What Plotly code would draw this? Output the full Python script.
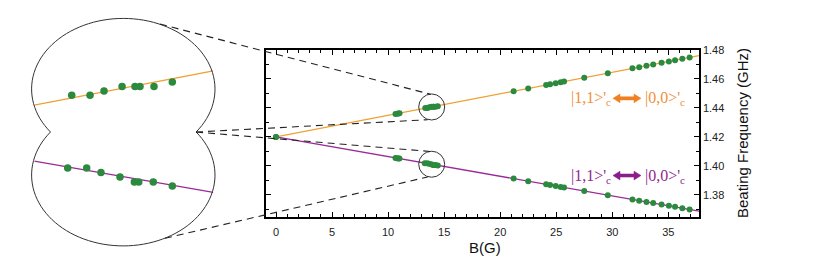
import math
import plotly.graph_objects as go

# ---------------- data ----------------
B_upper = [0.0, 10.66, 10.80, 10.92, 11.02,
           13.315, 13.519, 13.675, 13.876, 14.020, 14.076, 14.232, 14.436,
           21.2, 22.5, 24.1, 24.45, 24.95, 25.4, 25.7, 27.5, 29.6,
           31.8, 32.4, 33.05, 33.65, 34.4, 35.05, 35.6, 36.25, 36.9]
f_upper = [1.4200, 1.43584, 1.43605, 1.43623, 1.43638,
           1.44002, 1.44002, 1.44038, 1.44078, 1.44078, 1.44078, 1.44078, 1.44117,
           1.4515, 1.4534, 1.4558, 1.4563, 1.4571, 1.4577, 1.4582, 1.4609, 1.4640,
           1.4673, 1.4681, 1.4691, 1.4700, 1.4711, 1.4721, 1.4729, 1.4739, 1.4748]

B_lower = [0.0, 10.66, 10.80, 10.92, 11.02,
           13.270, 13.482, 13.641, 13.853, 14.013, 14.062, 14.224, 14.436,
           21.2, 22.5, 24.1, 24.45, 24.95, 25.4, 25.7, 27.5, 29.6,
           31.8, 32.4, 33.05, 33.65, 34.4, 35.05, 35.6, 36.25, 36.9]
f_lower = [1.4200, 1.40552, 1.40533, 1.40517, 1.40503,
           1.40189, 1.40189, 1.40150, 1.40111, 1.40068, 1.40068, 1.40068, 1.40032,
           1.3912, 1.3894, 1.3873, 1.3868, 1.3861, 1.3855, 1.3851, 1.3827, 1.3798,
           1.3768, 1.3760, 1.3751, 1.3743, 1.3733, 1.3724, 1.3717, 1.3708, 1.3699]

fit_upper = (1.4200, 0.001486)   # intercept (GHz), slope (GHz/G)
fit_lower = (1.4200, -0.001358)

x_tickvals = [0, 5, 10, 15, 20, 25, 30, 35]
y_tickvals = [1.38, 1.40, 1.42, 1.44, 1.46, 1.48]
y_ticktext = ["1.38", "1.40", "1.42", "1.44", "1.46", "1.48"]

label_left = "|1,1&gt;'<sub>c</sub>"
label_right = "|0,0&gt;'<sub>c</sub>"

# ---------------- layout constants ----------------
W, H = 830, 263
MX0, MX1, MY0, MY1 = 266, 699, 45, 215.5     # main plot frame (px)
X_RANGE = [-0.892, 37.737]
Y_RANGE = [1.365, 1.48]
ZOOM_X = 13.89                               # centre of the magnified region
CIRC_R = 13                                  # px

IN_X0, IN_X1 = 34.3, 213.3                   # inset horizontal extent (px)
INSET_X = [12.898, 14.893]
INSET_UP_PX = (12.7, 129.0)
INSET_LO_PX = (129.0, 245.5)
INSET_UP_Y = [1.43684, 1.44666]
INSET_LO_Y = [1.39515, 1.40499]

ORANGE = "#f0a030"
PURPLE = "#9a2a9a"
GREEN = "#2b8a3e"
TXT_OR = "#f0903a"
TXT_PU = "#8e2a8e"


def fit(p, x):
    return p[0] + p[1] * x


def to_px(x, y):
    px = MX0 + (x - X_RANGE[0]) / (X_RANGE[1] - X_RANGE[0]) * (MX1 - MX0)
    py = MY1 - (y - Y_RANGE[0]) / (Y_RANGE[1] - Y_RANGE[0]) * (MY1 - MY0)
    return px, py


def paper(px, py):
    return px / W, 1 - py / H


fig = go.Figure()

# main axes traces
xl = [0.0, X_RANGE[1]]
fig.add_trace(go.Scatter(x=xl, y=[fit(fit_upper, v) for v in xl], mode="lines",
                         line=dict(color=ORANGE, width=1.3), xaxis="x", yaxis="y"))
fig.add_trace(go.Scatter(x=xl, y=[fit(fit_lower, v) for v in xl], mode="lines",
                         line=dict(color=PURPLE, width=1.3), xaxis="x", yaxis="y"))
fig.add_trace(go.Scatter(x=B_upper, y=f_upper, mode="markers",
                         marker=dict(color=GREEN, size=6), xaxis="x", yaxis="y"))
fig.add_trace(go.Scatter(x=B_lower, y=f_lower, mode="markers",
                         marker=dict(color=GREEN, size=6), xaxis="x", yaxis="y"))

# inset traces
fig.add_trace(go.Scatter(x=INSET_X, y=[fit(fit_upper, v) for v in INSET_X], mode="lines",
                         line=dict(color=ORANGE, width=1.3), xaxis="x2", yaxis="y2"))
fig.add_trace(go.Scatter(x=B_upper, y=f_upper, mode="markers",
                         marker=dict(color=GREEN, size=7.5), xaxis="x2", yaxis="y2"))
fig.add_trace(go.Scatter(x=INSET_X, y=[fit(fit_lower, v) for v in INSET_X], mode="lines",
                         line=dict(color=PURPLE, width=1.3), xaxis="x3", yaxis="y3"))
fig.add_trace(go.Scatter(x=B_lower, y=f_lower, mode="markers",
                         marker=dict(color=GREEN, size=7.5), xaxis="x3", yaxis="y3"))

# ---------------- shapes ----------------
shapes = []
# peanut-shaped inset outline (union of two ellipses)
cxe, ae = 123.3, 91.7
up_c, up_b = 85.0, 72.3
lo_c, lo_b = 173.0, 72.5
notch_y = 129.0
t_up = math.asin((up_c - notch_y) / up_b)
t_lo = math.asin((lo_c - notch_y) / lo_b)
pts = []
n = 80
for i in range(n + 1):
    t = t_up + (math.pi - 2 * t_up) * i / n
    pts.append((cxe + ae * math.cos(t), up_c - up_b * math.sin(t)))
for i in range(n + 1):
    t = (math.pi - t_lo) + (math.pi + 2 * t_lo) * i / n
    pts.append((cxe + ae * math.cos(t), lo_c - lo_b * math.sin(t)))
path = "M " + " L ".join("%.5f,%.5f" % paper(px, py) for px, py in pts) + " Z"
shapes.append(dict(type="path", path=path, xref="paper", yref="paper",
                   line=dict(color="#333333", width=1)))

# small circles in main plot
for p in (fit_upper, fit_lower):
    shapes.append(dict(type="circle", xref="x", yref="y", xsizemode="pixel", ysizemode="pixel",
                       xanchor=ZOOM_X, yanchor=fit(p, ZOOM_X),
                       x0=-CIRC_R, x1=CIRC_R, y0=-CIRC_R, y1=CIRC_R,
                       line=dict(color="#333333", width=1)))

# dashed connectors
cu = to_px(ZOOM_X, fit(fit_upper, ZOOM_X))
cl = to_px(ZOOM_X, fit(fit_lower, ZOOM_X))
notch_r = (cxe + ae * math.cos(t_up), notch_y)
connectors = [
    ((160.0, 18.5), (cu[0] - 1, cu[1] - CIRC_R)),
    (notch_r, (cu[0] - 4, cu[1] + CIRC_R)),
    (notch_r, (cl[0] - 1, cl[1] - CIRC_R)),
    ((165.0, 237.7), (cl[0] - 4, cl[1] + CIRC_R)),
]
for a, b in connectors:
    pa, pb = paper(*a), paper(*b)
    shapes.append(dict(type="line", xref="paper", yref="paper",
                       x0=pa[0], y0=pa[1], x1=pb[0], y1=pb[1],
                       line=dict(color="#222222", width=1.1, dash="7px,5px")))

# double-headed arrows of the transition labels
def double_arrow(xl_, xr_, yc, col):
    head_l, head_h, shaft_h = 7.0, 4.5, 1.6
    poly = [(xl_, yc), (xl_ + head_l, yc - head_h), (xl_ + head_l, yc - shaft_h),
            (xr_ - head_l, yc - shaft_h), (xr_ - head_l, yc - head_h), (xr_, yc),
            (xr_ - head_l, yc + head_h), (xr_ - head_l, yc + shaft_h),
            (xl_ + head_l, yc + shaft_h), (xl_ + head_l, yc + head_h)]
    pth = "M " + " L ".join("%.5f,%.5f" % paper(px, py) for px, py in poly) + " Z"
    return dict(type="path", path=pth, xref="paper", yref="paper",
                fillcolor=col, line=dict(color=col, width=0.5))

shapes.append(double_arrow(613, 641, 94.5, "#f08020"))
shapes.append(double_arrow(613, 641, 173.5, "#8a1f8a"))

# ---------------- annotations ----------------
ann = []
serif = dict(family="Liberation Serif, Times New Roman, serif", size=16)
for (ypx, tcol) in ((95, TXT_OR), (174, TXT_PU)):
    xa, ya = paper(613, ypx)
    ann.append(dict(x=xa, y=ya, xref="paper", yref="paper", text=label_left,
                    showarrow=False, xanchor="right", yanchor="middle",
                    font=dict(color=tcol, **serif)))
    xb, yb = paper(643, ypx)
    ann.append(dict(x=xb, y=yb, xref="paper", yref="paper", text=label_right,
                    showarrow=False, xanchor="left", yanchor="middle",
                    font=dict(color=tcol, **serif)))

sans = "Liberation Sans, Arial, sans-serif"
bx, by = paper(485, 247)
ann.append(dict(x=bx, y=by, xref="paper", yref="paper", text="B(G)", showarrow=False,
                xanchor="center", yanchor="middle", font=dict(family=sans, size=15, color="#111")))
fx, fy = paper(742, 130)
ann.append(dict(x=fx, y=fy, xref="paper", yref="paper", text="Beating Frequency (GHz)",
                showarrow=False, textangle=-90, xanchor="center", yanchor="middle",
                font=dict(family=sans, size=15, color="#111")))

# ---------------- axes ----------------
mdx = [MX0 / W, MX1 / W]
mdy = [1 - MY1 / H, 1 - MY0 / H]
axis_common = dict(showline=True, linecolor="black", linewidth=1.5, mirror="ticks",
                   ticks="inside", ticklen=5, tickwidth=1, tickcolor="black",
                   showgrid=False, zeroline=False,
                   tickfont=dict(family=sans, size=11, color="#222"))

fig.update_layout(
    width=W, height=H,
    margin=dict(l=0, r=0, t=0, b=0),
    paper_bgcolor="white", plot_bgcolor="white",
    showlegend=False,
    xaxis=dict(domain=mdx, range=X_RANGE, tickvals=x_tickvals, anchor="y",
               minor=dict(dtick=1, ticks="inside", ticklen=3, tickcolor="black"),
               ticklabelstandoff=4, **axis_common),
    yaxis=dict(domain=mdy, range=Y_RANGE, tickvals=y_tickvals, ticktext=y_ticktext,
               side="right", anchor="x",
               minor=dict(dtick=0.01, ticks="inside", ticklen=3, tickcolor="black"),
               **axis_common),
    xaxis2=dict(domain=[IN_X0 / W, IN_X1 / W], range=INSET_X, visible=False, anchor="y2"),
    yaxis2=dict(domain=[1 - INSET_UP_PX[1] / H, 1 - INSET_UP_PX[0] / H], range=INSET_UP_Y,
                visible=False, anchor="x2"),
    xaxis3=dict(domain=[IN_X0 / W, IN_X1 / W], range=INSET_X, visible=False, anchor="y3"),
    yaxis3=dict(domain=[1 - INSET_LO_PX[1] / H, 1 - INSET_LO_PX[0] / H], range=INSET_LO_Y,
                visible=False, anchor="x3"),
    shapes=shapes,
    annotations=ann,
)

fig.write_html("out.html", config={"displayModeBar": False},
               post_script="document.body.style.margin='0';")
